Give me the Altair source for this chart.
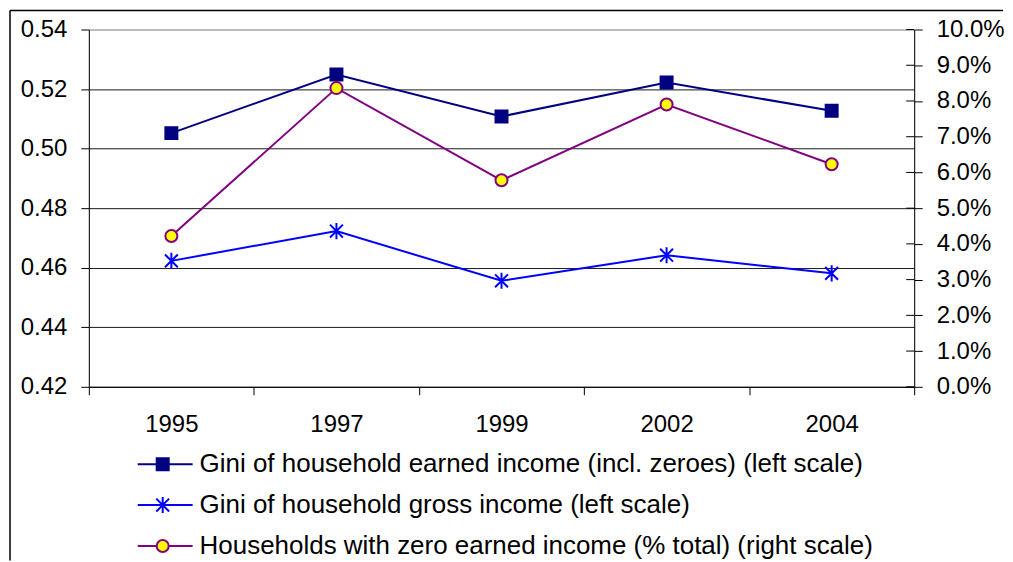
import altair as alt
import pandas as pd

years = ["1995", "1997", "1999", "2002", "2004"]
gini_earned = [0.5052, 0.5249, 0.5108, 0.5222, 0.5127]
gini_gross = [0.4623, 0.4723, 0.4556, 0.4642, 0.4581]
zero_share = [0.0422, 0.0836, 0.0578, 0.0790, 0.0623]

names = [
    "Gini of household earned income (incl. zeroes) (left scale)",
    "Gini of household gross income (left scale)",
    "Households with zero earned income (% total) (right scale)",
]
line_colors = ["#000080", "#0000FF", "#800080"]
fill_colors = ["#000080", "#0000FF", "#FFFF00"]
star = "M0,-1V1M-0.8,-0.8L0.8,0.8M-0.8,0.8L0.8,-0.8"
shapes = ["square", star, "circle"]
sizes = [144, 260, 145]

left_ticks = [0.42, 0.44, 0.46, 0.48, 0.50, 0.52, 0.54]
right_ticks = [i / 100 for i in range(0, 11)]

FONT = "Liberation Sans"
W, H = 827, 358

left_df = pd.DataFrame(
    {"year": years * 2,
     "series": [names[0]] * 5 + [names[1]] * 5,
     "value": gini_earned + gini_gross}
)
right_df = pd.DataFrame({"year": years, "series": [names[2]] * 5, "value": zero_share})
tick_df = pd.DataFrame({"value": right_ticks})

color_scale = alt.Scale(domain=names, range=line_colors)
fill_scale = alt.Scale(domain=names, range=fill_colors)
shape_scale = alt.Scale(domain=names, range=shapes)
size_scale = alt.Scale(type="ordinal", domain=names, range=sizes)

xenc = alt.X(
    "year:N", sort=years, bandPosition=0.5,
    scale=alt.Scale(type="band", paddingInner=0, paddingOuter=0),
    axis=alt.Axis(title=None, labelAngle=0, tickBand="extent", grid=False,
                  tickSize=8, tickColor="#000", domainColor="#000",
                  labelFontSize=24, labelFont=FONT, labelColor="#000",
                  labelPadding=18),
)

y_left = alt.Y(
    "value:Q",
    scale=alt.Scale(domain=[0.42, 0.54], nice=False, zero=False),
    axis=alt.Axis(title=None, values=left_ticks, format=".2f", orient="left",
                  tickSize=8, tickColor="#000", domainColor="#000",
                  labelFontSize=24, labelFont=FONT, labelColor="#000",
                  labelPadding=14, grid=True,
                  gridColor={"condition": {"test": "datum.value > 0.535", "value": "#8c8c8c"},
                             "value": "#1a1a1a"}),
)
right_axis = alt.Axis(title=None, values=right_ticks, format=".1%", orient="right",
                      tickSize=8, tickColor="#000", domainColor="#000",
                      labelFontSize=24, labelFont=FONT, labelColor="#000",
                      labelPadding=14, grid=False)
right_scale = alt.Scale(domain=[0, 0.10], nice=False, zero=True)
y_right = alt.Y("value:Q", scale=right_scale, axis=right_axis)

point_enc = dict(
    stroke=alt.Stroke("series:N", scale=color_scale, legend=None),
    fill=alt.Fill("series:N", scale=fill_scale, legend=None),
    shape=alt.Shape("series:N", scale=shape_scale, legend=None),
    size=alt.Size("series:N", scale=size_scale, legend=None),
)

left_line = alt.Chart(left_df).mark_line(strokeWidth=2).encode(
    x=xenc, y=y_left, color=alt.Color("series:N", scale=color_scale, legend=None))
left_pts = alt.Chart(left_df).mark_point(filled=False, opacity=1, strokeWidth=2).encode(
    x=xenc, y=y_left, **point_enc)
right_line = alt.Chart(right_df).mark_line(strokeWidth=2).encode(
    x=xenc, y=y_right, color=alt.Color("series:N", scale=color_scale, legend=None))
right_pts = alt.Chart(right_df).mark_point(filled=False, opacity=1, strokeWidth=2).encode(
    x=xenc, y=y_right, **point_enc)
inner_ticks = alt.Chart(tick_df).mark_rule(color="#000", strokeWidth=1).encode(
    y=y_right, x=alt.value(W - 8), x2=alt.value(W),
)

frame_df = pd.DataFrame({"k": [0]})
left_border = alt.Chart(frame_df).mark_rule(color="#000", strokeWidth=1.5).encode(
    x=alt.value(-79), y=alt.value(-19), y2=alt.value(532))
top_border = alt.Chart(frame_df).mark_rule(color="#000", strokeWidth=1.5).encode(
    x=alt.value(-79), x2=alt.value(W + 89), y=alt.value(-19))

left_layer = alt.layer(left_line, left_pts)
right_layer = alt.layer(right_line, right_pts, inner_ticks)

top = alt.layer(left_layer, right_layer, left_border, top_border).resolve_scale(
    y="independent"
).properties(width=W, height=H)

leg_df = pd.DataFrame({"series": names})
ly = alt.Y("series:N", sort=names, axis=None, bandPosition=0.5,
           scale=alt.Scale(type="band", paddingInner=0, paddingOuter=0))
leg_rule = alt.Chart(leg_df).mark_rule(strokeWidth=2).encode(
    y=ly, x=alt.value(49), x2=alt.value(104),
    color=alt.Color("series:N", scale=color_scale, legend=None))
leg_pts = alt.Chart(leg_df).mark_point(filled=False, opacity=1, strokeWidth=2).encode(
    y=ly, x=alt.value(74), **point_enc)
leg_txt = alt.Chart(leg_df).mark_text(
    align="left", baseline="middle", fontSize=26, font=FONT, color="#000"
).encode(y=ly, x=alt.value(111), text="series:N")
legend = alt.layer(leg_rule, leg_pts, leg_txt).properties(
    width=W, height=123, view=alt.ViewBackground(stroke="transparent"))

chart = alt.vconcat(top, legend, spacing=57, bounds="flush").properties(
    padding=0
).configure_view(stroke="#8c8c8c", strokeWidth=1).configure(background="white")

chart.save("out.html", embed_options={"renderer": "svg", "actions": False})
